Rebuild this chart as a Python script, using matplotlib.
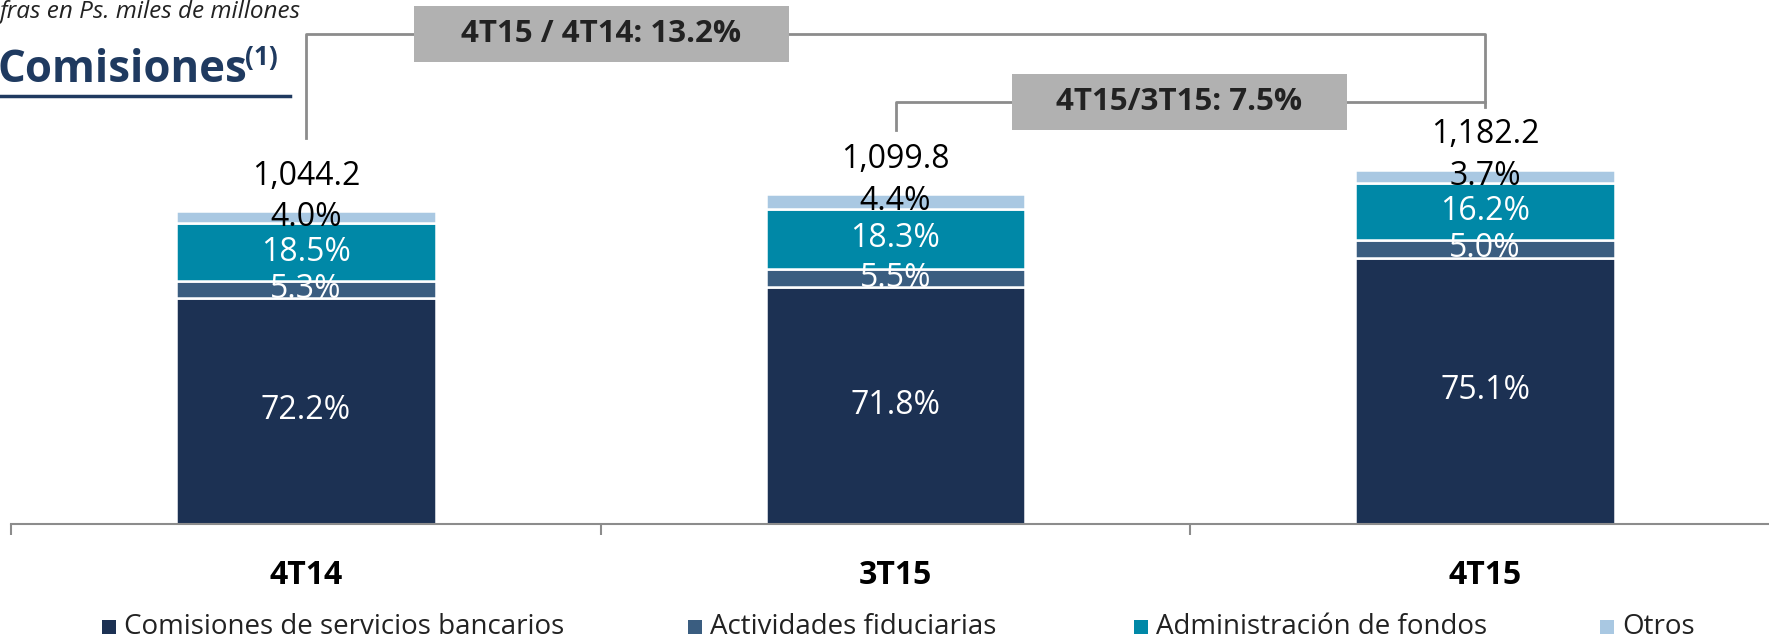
import matplotlib.pyplot as plt
import numpy as np
from matplotlib.patches import Rectangle

# Data (cifras en Ps. miles de millones)
periodos = ['4T14', '3T15', '4T15']
totales = np.array([1044.2, 1099.8, 1182.2])
series = ['Comisiones de servicios bancarios', 'Actividades fiduciarias',
          'Administración de fondos', 'Otros']
pct_bancarios = np.array([72.2, 71.8, 75.1])
pct_fiduciarias = np.array([5.3, 5.5, 5.0])
pct_fondos = np.array([18.5, 18.3, 16.2])
pct_otros = np.array([4.0, 4.4, 3.7])
crec_labels = ['4T15 / 4T14: 13.2%', '4T15/3T15: 7.5%']

colores = ['#1C3153', '#3A5D80', '#0088A7', '#A9C8E2']
txt_colores = ['white', 'white', 'white', 'black']
gris_linea = '#8C8C8C'
gris_caja = '#B1B1B1'
navy = '#1F3A60'

plt.rcParams['font.family'] = ['Open Sans', 'DejaVu Sans']

W, H = 1769, 640
fig = plt.figure(figsize=(W / 100, H / 100), dpi=100)
ax = fig.add_axes([11 / W, 116 / H, 1.0, 524 / H])
ax.set_xlim(-0.5, 2.5)
ax.set_ylim(0, 1748)

x = np.arange(len(periodos))
pcts = [pct_bancarios, pct_fiduciarias, pct_fondos, pct_otros]
bottom = np.zeros(3)
for pct, col, tcol in zip(pcts, colores, txt_colores):
    vals = totales * pct / 100
    ax.bar(x, vals, 0.44, bottom=bottom, color=col, edgecolor='white', linewidth=1.8)
    for xi, b, v, p in zip(x, bottom, vals, pct):
        ax.text(xi, b + v / 2, f'{p:.1f}%', ha='center', va='center',
                color=tcol, fontsize=23)
    bottom = bottom + vals

for xi, t in zip(x, totales):
    ax.annotate(f'{t:,.1f}', (xi, t), xytext=(0, 25), textcoords='offset points',
                ha='center', va='center', fontsize=23, color='black')

# axis styling
for s in ['top', 'right', 'left']:
    ax.spines[s].set_visible(False)
ax.spines['bottom'].set_color(gris_linea)
ax.spines['bottom'].set_linewidth(1.5)
ax.set_yticks([])
ax.set_xticks(x)
ax.set_xticklabels(periodos, fontsize=23, fontweight='bold')
ax.tick_params(axis='x', which='major', length=0, pad=25)
ax.set_xticks([-0.5, 0.5, 1.5, 2.5], minor=True)
ax.tick_params(axis='x', which='minor', length=8, width=1.5, color=gris_linea)

# growth brackets
y_big, y_small = 1634, 1408
ax.plot([0, 0, 2, 2], [1287, y_big, y_big, 1391], color=gris_linea, lw=2, clip_on=False)
ax.plot([1, 1, 2], [1314, y_small, y_small], color=gris_linea, lw=2, clip_on=False)
cajas = [(0.183, 0.820, y_big), (1.197, 1.766, y_small)]
for (x0, x1, yc), lab in zip(cajas, crec_labels):
    ax.add_patch(Rectangle((x0, yc - 93), x1 - x0, 186, facecolor=gris_caja,
                           edgecolor='none', clip_on=False, zorder=3))
    ax.text((x0 + x1) / 2, yc, lab, ha='center', va='center', fontsize=22.5,
            fontweight='bold', color='#222222', zorder=4)

# title
fig.text(0, 1 - 12 / H, 'fras en Ps. miles de millones', ha='left', va='center',
         fontsize=17.5, style='italic', color='#222222')
fig.text(-2 / W, 1 - 71 / H, 'Comisiones', ha='left', va='center', fontsize=31.5,
         fontweight='bold', color=navy)
fig.text(245 / W, 1 - 58 / H, '(1)', ha='left', va='center', fontsize=19,
         fontweight='bold', color=navy)
fig.add_artist(plt.Line2D([0, 290 / W], [1 - 96 / H, 1 - 96 / H], color=navy, lw=2.5))

# legend
sq_x = [102, 688, 1134, 1600]
for sx, nombre, col in zip(sq_x, series, colores):
    fig.add_artist(Rectangle((sx / W, 1 - 634 / H), 14 / W, 14 / H,
                             facecolor=col, edgecolor='none', transform=fig.transFigure))
    fig.text((sx + 22) / W, 1 - 627 / H, nombre, ha='left', va='center', fontsize=20,
             color='#222222')

fig.savefig('out.png', dpi=100)
